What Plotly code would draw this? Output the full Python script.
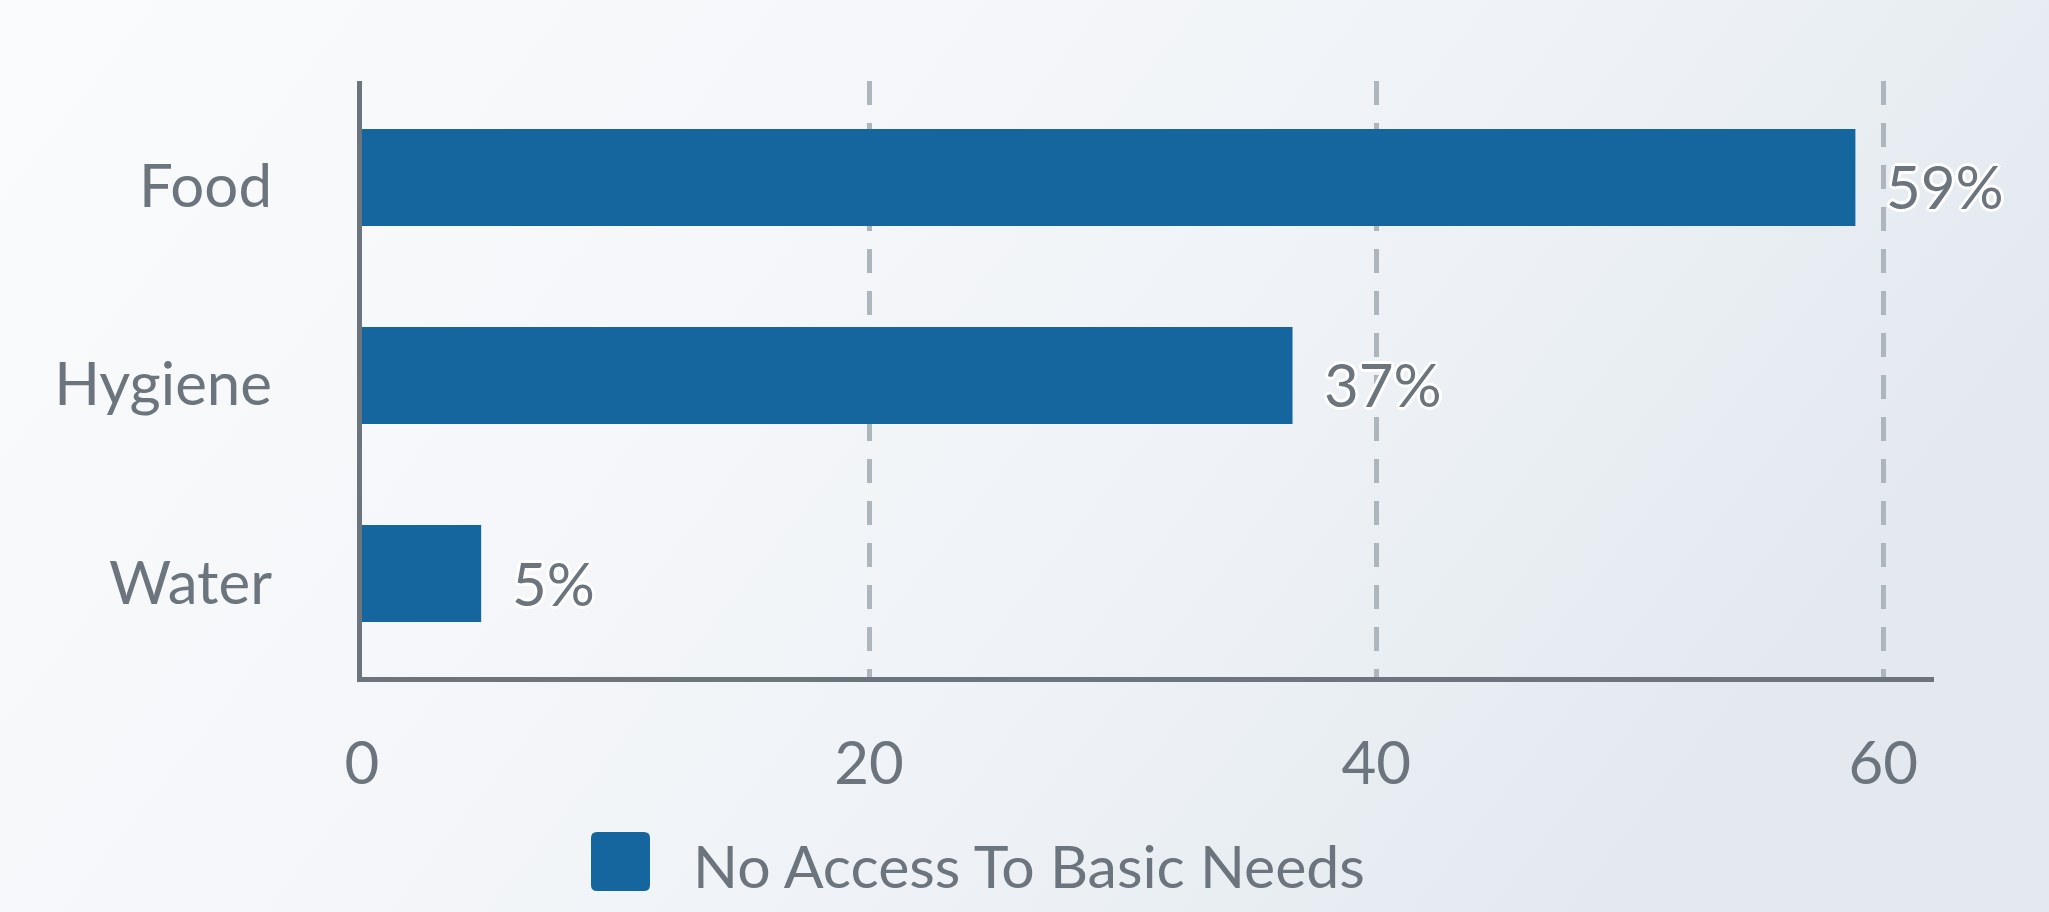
import base64
import plotly.graph_objects as go

# ---- data ----
categories = ["Food", "Hygiene", "Water"]
values = [58.9, 36.7, 4.7]
value_labels = ["59%", "37%", "5%"]
x_tick_values = [0, 20, 40, 60]
x_tick_labels = ["0", "20", "40", "60"]
series_name = "No Access To Basic Needs"

W, H = 2049, 912
GRAY = "#6c757d"
GRID = "#adb5bd"
BLUE = "#15669e"
FONT = "Lato"
FS = 60


def px(x):
    return x / W


def py(y):
    return 1 - y / H


# background gradient as svg image
svg = (
    "<svg xmlns='http://www.w3.org/2000/svg' width='2049' height='912' preserveAspectRatio='none'>"
    "<defs><linearGradient id='g' x1='0' y1='0' x2='1' y2='0.35'>"
    "<stop offset='0' stop-color='#fafbfc'/>"
    "<stop offset='0.45' stop-color='#f4f6f9'/>"
    "<stop offset='0.7' stop-color='#eef2f6'/>"
    "<stop offset='1' stop-color='#e3e9ef'/>"
    "</linearGradient></defs>"
    "<rect x='0' y='0' width='2049' height='912' fill='url(#g)'/></svg>"
)
src = "data:image/svg+xml;base64," + base64.b64encode(svg.encode()).decode()

outline = ", ".join(
    f"{dx}px {dy}px 0 #ffffff"
    for dx, dy in [(3, 0), (-3, 0), (0, 3), (0, -3), (2, 2), (-2, 2), (2, -2), (-2, -2)]
)

fig = go.Figure()
fig.add_trace(
    go.Bar(
        x=values,
        y=categories,
        orientation="h",
        width=0.49,
        marker=dict(color=BLUE, line=dict(width=0)),
        name=series_name,
        showlegend=False,
        hoverinfo="x+y",
    )
)

annotations = []
for v, c, t in zip(values, categories, value_labels):
    annotations.append(
        dict(
            x=v, y=c, xref="x", yref="y", text=t, showarrow=False,
            xanchor="left", yanchor="middle", xshift=29, yshift=-9,
            font=dict(family=FONT, size=FS, color=GRAY, shadow=outline),
        )
    )

# legend (manual, large swatch)
x0, x1, y0, y1, r = 591, 650, 832, 891, 6
path = (
    f"M {px(x0 + r)},{py(y0)} L {px(x1 - r)},{py(y0)} Q {px(x1)},{py(y0)} {px(x1)},{py(y0 + r)} "
    f"L {px(x1)},{py(y1 - r)} Q {px(x1)},{py(y1)} {px(x1 - r)},{py(y1)} "
    f"L {px(x0 + r)},{py(y1)} Q {px(x0)},{py(y1)} {px(x0)},{py(y1 - r)} "
    f"L {px(x0)},{py(y0 + r)} Q {px(x0)},{py(y0)} {px(x0 + r)},{py(y0)} Z"
)
shapes = [dict(type="path", path=path, xref="paper", yref="paper",
               fillcolor=BLUE, line=dict(width=0), layer="above")]
annotations.append(
    dict(x=px(691), y=py(861), xref="paper", yref="paper", text=series_name,
         showarrow=False, xanchor="left", yanchor="middle", yshift=-4,
         font=dict(family=FONT, size=59, color=GRAY))
)

fig.update_layout(
    width=W, height=H,
    margin=dict(l=0, r=0, t=0, b=0, pad=0, autoexpand=False),
    paper_bgcolor="#f2f5f8",
    plot_bgcolor="rgba(0,0,0,0)",
    font=dict(family=FONT, size=FS, color=GRAY),
    showlegend=False,
    bargap=0.5,
    images=[dict(source=src, xref="paper", yref="paper", x=0, y=1, sizex=1, sizey=1,
                 xanchor="left", yanchor="top", sizing="stretch", layer="below")],
    shapes=shapes,
    annotations=annotations,
    xaxis=dict(
        domain=[362 / W, 1934 / W],
        range=[0, 62],
        tickmode="array", tickvals=x_tick_values, ticktext=x_tick_labels,
        showgrid=True, gridcolor=GRID, gridwidth=5, griddash="24px,18px",
        showline=True, linecolor=GRAY, linewidth=5,
        zeroline=False, ticks="", automargin=False,
        ticklabelstandoff=30,
        tickfont=dict(family=FONT, size=FS, color=GRAY),
    ),
    yaxis=dict(
        domain=[1 - 676.5 / H, 1 - 81 / H],
        type="category",
        range=[2.520, -0.487],
        showgrid=False,
        showline=True, linecolor=GRAY, linewidth=5,
        zeroline=False, ticks="", automargin=False,
        ticklabelstandoff=73,
        ticklabelshift=-9,
        tickfont=dict(family=FONT, size=FS, color=GRAY),
    ),
)

fig.write_html(
    "out.html",
    config={"displayModeBar": False},
    post_script="document.body.style.margin='0';document.body.style.overflow='hidden';",
)
